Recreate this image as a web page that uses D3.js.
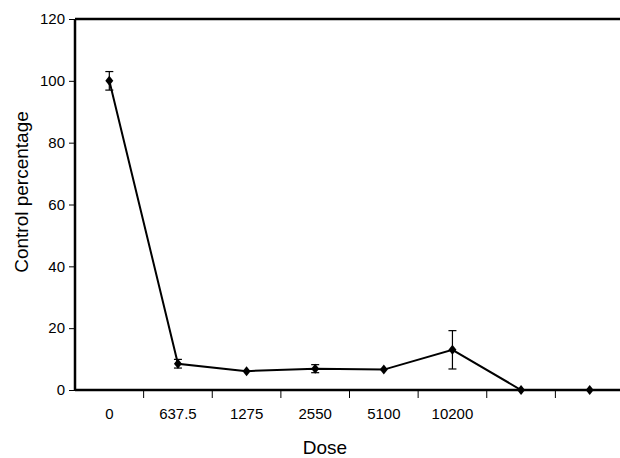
<!DOCTYPE html>
<html>
<head>
  <meta charset="utf-8">
  <title>Control percentage by dose</title>
  <script src="https://d3js.org/d3.v7.min.js"></script>
  <style>
    body { margin: 0; background: #fff; }
    text { font-family: "Liberation Sans", Arial, sans-serif; fill: #000; }
  </style>
</head>
<body>
<script>
const width = 620;
const height = 458;

// data
const doses = ['0', '637.5', '1275', '2550', '5100', '10200', '', ' '];
const control = [100, 8.5, 6.1, 6.9, 6.6, 13, 0, 0];
const errors = [3, 1.4, 0.4, 1.3, 0.4, 6.2, 0, 0];
const yTicks = [0, 20, 40, 60, 80, 100, 120];

const svg = d3.select('body')
  .append('svg')
  .attr('width', width)
  .attr('height', height);

const x = d3.scaleBand()
  .domain(doses)
  .range([75, 624]);

const y = d3.scaleLinear()
  .domain([0, 120])
  .range([390, 19]);

const pts = doses.map((d, i) => ({ dose: d, v: control[i], e: errors[i] }));
const cx = d => x(d.dose) + x.bandwidth() / 2;

// top frame line
svg.append('line')
  .attr('x1', 75).attr('x2', width)
  .attr('y1', y(120)).attr('y2', y(120))
  .attr('stroke', '#000').attr('stroke-width', 2.5);

// y axis
const yAxis = svg.append('g')
  .attr('transform', 'translate(75,0)')
  .call(d3.axisLeft(y).tickValues(yTicks).tickSize(6).tickPadding(4));
yAxis.select('.domain').attr('stroke-width', 2.5).attr('d', `M0,${y(120)}V${y(0)}`);
yAxis.selectAll('.tick line').attr('stroke-width', 1);
yAxis.selectAll('.tick text').attr('font-size', 15).attr('font-family', '"Liberation Sans", Arial, sans-serif');

// x axis, ticks between categories like Excel
const xAxis = svg.append('g')
  .attr('transform', `translate(0,${y(0)})`)
  .call(d3.axisBottom(x).tickSize(0).tickPadding(18));
xAxis.select('.domain').attr('stroke-width', 2.5).attr('d', `M75,0H${width}`);
xAxis.selectAll('.tick text').attr('font-size', 15).attr('font-family', '"Liberation Sans", Arial, sans-serif');

svg.append('g')
  .selectAll('line')
  .data(doses.slice(1))
  .join('line')
  .attr('x1', d => x(d)).attr('x2', d => x(d))
  .attr('y1', y(0)).attr('y2', y(0) + 8)
  .attr('stroke', '#000').attr('stroke-width', 1);

// line
svg.append('path')
  .datum(pts)
  .attr('fill', 'none')
  .attr('stroke', '#000')
  .attr('stroke-width', 2)
  .attr('d', d3.line().x(cx).y(d => y(d.v)));

// error bars
const eb = svg.append('g')
  .selectAll('g')
  .data(pts.filter(d => d.e > 0.5))
  .join('g')
  .attr('stroke', '#000')
  .attr('stroke-width', 1.2);
eb.append('line')
  .attr('x1', cx).attr('x2', cx)
  .attr('y1', d => y(d.v + d.e)).attr('y2', d => y(d.v - d.e));
eb.append('line')
  .attr('x1', d => cx(d) - 4).attr('x2', d => cx(d) + 4)
  .attr('y1', d => y(d.v + d.e)).attr('y2', d => y(d.v + d.e));
eb.append('line')
  .attr('x1', d => cx(d) - 4).attr('x2', d => cx(d) + 4)
  .attr('y1', d => y(d.v - d.e)).attr('y2', d => y(d.v - d.e));

// diamond markers
svg.append('g')
  .selectAll('path')
  .data(pts)
  .join('path')
  .attr('transform', d => `translate(${cx(d)},${y(d.v)})`)
  .attr('d', 'M0,-5L4,0L0,5L-4,0Z')
  .attr('fill', '#000');

// axis titles
svg.append('text')
  .attr('x', 325)
  .attr('y', 454)
  .attr('text-anchor', 'middle')
  .attr('font-size', 19)
  .text('Dose');

svg.append('text')
  .attr('transform', 'translate(27.5,192) rotate(-90)')
  .attr('text-anchor', 'middle')
  .attr('font-size', 19)
  .text('Control percentage');
</script>
</body>
</html>
